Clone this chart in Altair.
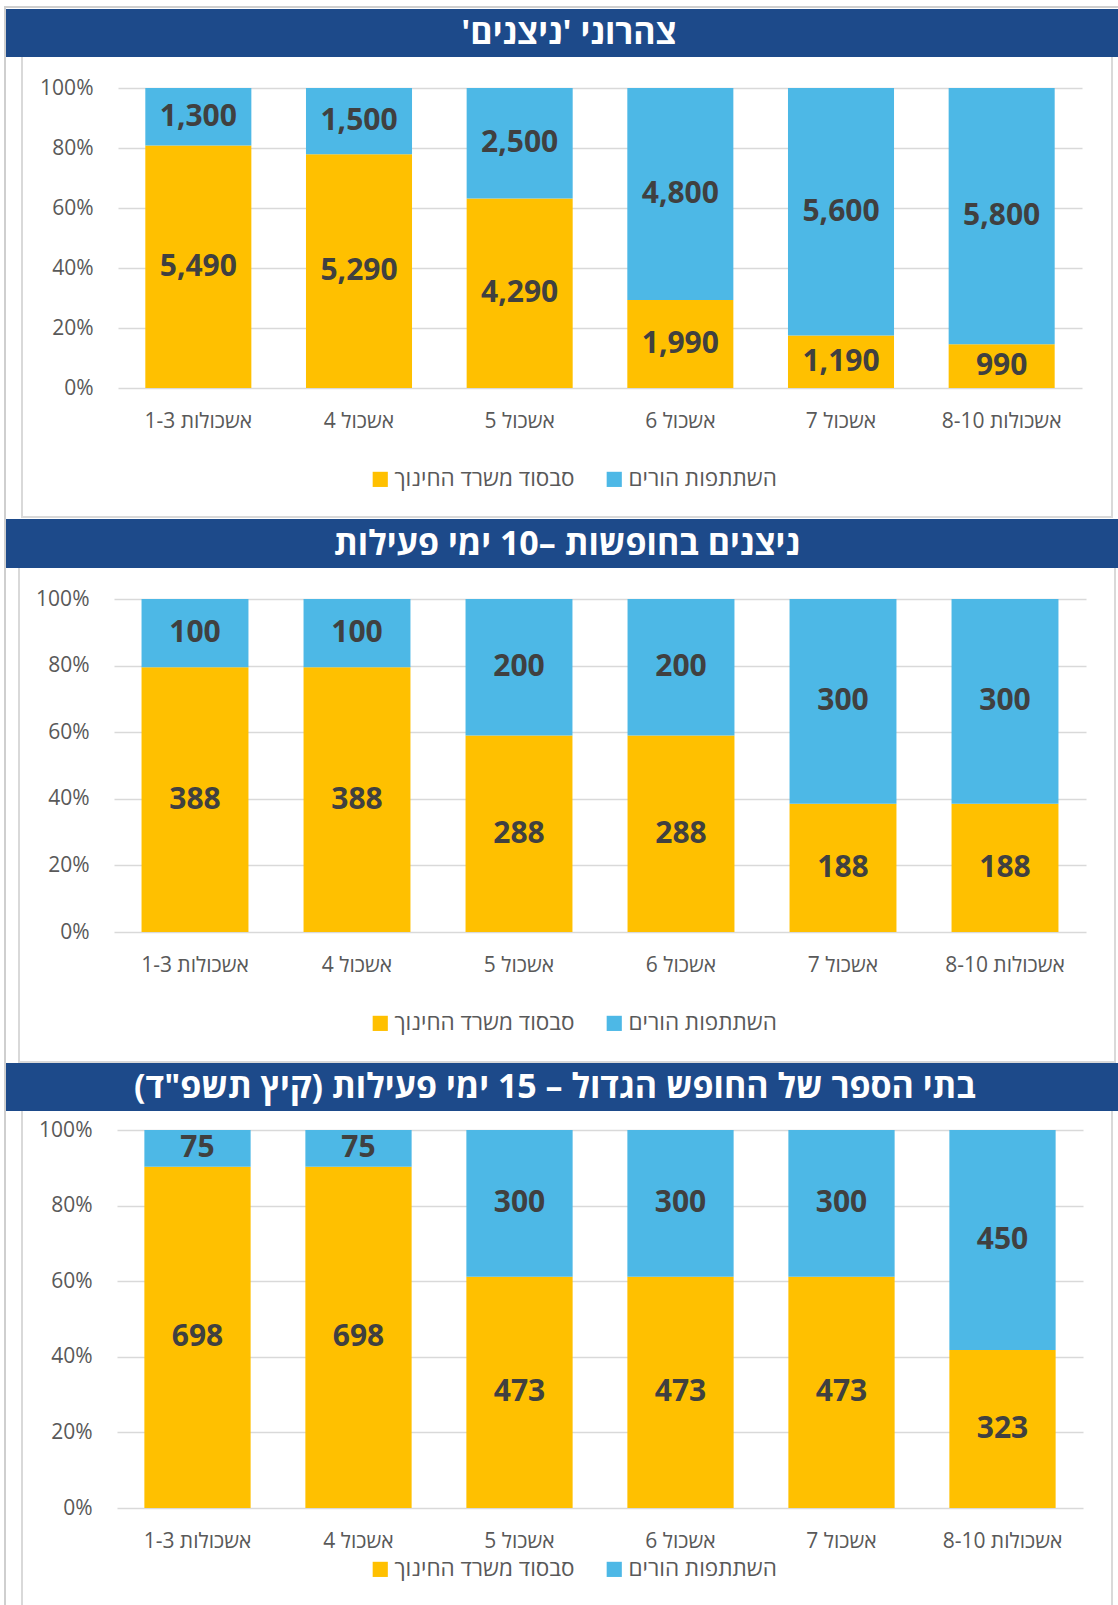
import altair as alt
import pandas as pd

# ---------------- data ----------------
CATS = ["אשכולות 1-3", "אשכול 4", "אשכול 5", "אשכול 6", "אשכול 7", "אשכולות 8-10"]
SERIES = ["סבסוד משרד החינוך", "השתתפות הורים"]
COLORS = ["#FFC000", "#4DB8E6"]
Y_TICKS = [0, 0.2, 0.4, 0.6, 0.8, 1.0]

P1_TITLE = "צהרוני 'ניצנים'"
P1_YEL = [5490, 5290, 4290, 1990, 1190, 990]
P1_BLU = [1300, 1500, 2500, 4800, 5600, 5800]

P2_TITLE = "ניצנים בחופשות –10 ימי פעילות"
P2_YEL = [388, 388, 288, 288, 188, 188]
P2_BLU = [100, 100, 200, 200, 300, 300]

P3_TITLE = 'בתי הספר של החופש הגדול – 15 ימי פעילות (קיץ תשפ"ד)'
P3_YEL = [698, 698, 473, 473, 473, 323]
P3_BLU = [75, 75, 300, 300, 300, 450]

# ---------------- style ----------------
PAGE_W = 1118
OX = 118  # common plot origin of the stacked views
BANNER = "#1D4A8A"
FRAME = "#CFCFCF"
BORDER = "#D9D9D9"
GRID = "#D9D9D9"
AXIS_TXT = "#595959"
VAL_TXT = "#404040"
FONT = "Open Sans"
RLM = "\u200f"


def panel(title, yel, blu, x_left, x_right, oy, H, top, bottom, ban_top, ban_bot,
          border, legend_xy, title_cx, frame_top=False, border_bottom=True):
    rows = []
    for c, a, b in zip(CATS, yel, blu):
        rows.append(dict(cat=c, series=SERIES[0], value=a, ord=0))
        rows.append(dict(cat=c, series=SERIES[1], value=b, ord=1))
    df = pd.DataFrame(rows)
    one = pd.DataFrame({"k": [0]})
    ox = OX
    W = x_right - ox
    xr = [x_left - ox, x_right - ox]

    def px(v):
        return alt.value(v - ox)

    def py(v):
        return alt.value(v - oy)

    def box(x1, x2, y1, y2, color):
        return alt.Chart(one).mark_rect(fill=color).encode(
            x=px(x1), x2=px(x2), y=py(y1), y2=py(y2))

    layers = []
    # invisible block rectangle (defines the block's bounds)
    layers.append(alt.Chart(one).mark_rect(fill="white", opacity=0).encode(
        x=px(0), x2=px(PAGE_W), y=py(top), y2=py(bottom)))
    # outer frame line on the left (and top for the first block)
    layers.append(box(4, 6, top + (6 if frame_top else 0), bottom, FRAME))
    if frame_top:
        layers.append(box(4, PAGE_W, 6, 8, FRAME))
    # panel border
    bx1, by1, bx2, by2 = border
    layers.append(box(bx1 - 1, bx1 + 1, by1, by2, BORDER))
    layers.append(box(bx2 - 1, bx2 + 1, by1, by2, BORDER))
    if border_bottom:
        layers.append(box(bx1 - 1, bx2 + 1, by2 - 1, by2 + 1, BORDER))
    # banner
    layers.append(box(6, PAGE_W, ban_top, ban_bot, BANNER))
    layers.append(alt.Chart(one).mark_text(
        text=RLM + title + RLM, font=FONT, fontSize=34, fontWeight="bold",
        color="white", align="center", baseline="middle").encode(
        x=px(title_cx), y=py((ban_top + ban_bot) / 2 + 1)))

    xenc = alt.X("cat:N", sort=CATS, title=None,
                 scale=alt.Scale(paddingInner=0.34, paddingOuter=0.17, range=xr),
                 axis=alt.Axis(labelAngle=0, labelFont=FONT, labelFontSize=21,
                               labelColor=AXIS_TXT, labelPadding=22,
                               labelLimit=300,
                               domain=False, ticks=False, grid=False))
    bars = alt.Chart(df).mark_bar().encode(
        x=xenc,
        y=alt.Y("value:Q", stack="normalize", title=None,
                scale=alt.Scale(domain=[0, 1]),
                axis=alt.Axis(values=Y_TICKS, format=".0%", labelFont=FONT,
                              labelFontSize=21, labelColor=AXIS_TXT,
                              labelPadding=25 + (ox - x_left), domain=False,
                              ticks=False, grid=True, gridColor=GRID,
                              gridWidth=1.5)),
        color=alt.Color("series:N", title=None,
                        scale=alt.Scale(domain=SERIES, range=COLORS),
                        legend=alt.Legend(orient="none", direction="horizontal",
                                          legendX=legend_xy[0] - ox,
                                          legendY=legend_xy[1] - oy,
                                          symbolType="square", symbolSize=230,
                                          symbolStrokeWidth=0,
                                          labelFont=FONT, labelFontSize=22.5,
                                          labelColor=AXIS_TXT, labelOffset=3,
                                          labelLimit=400,
                                          columnPadding=28, padding=0)),
        order=alt.Order("ord:Q"),
    )
    labels = alt.Chart(df).transform_stack(
        stack="value", as_=["v0", "v1"], groupby=["cat"],
        offset="normalize", sort=[alt.SortField("ord")]
    ).transform_calculate(mid="(datum.v0 + datum.v1) / 2").mark_text(
        font=FONT, fontSize=30, fontWeight="bold", color=VAL_TXT,
        baseline="middle", align="center").encode(
        x=alt.X("cat:N", sort=CATS),
        y=alt.Y("mid:Q"),
        text=alt.Text("value:Q", format=","),
    )
    layers += [bars, labels]
    return alt.layer(*layers).properties(width=W, height=H)


p1 = panel(P1_TITLE, P1_YEL, P1_BLU, x_left=118, x_right=1082, oy=88, H=300,
           top=0, bottom=519, ban_top=9, ban_bot=57,
           border=(22, 57, 1112, 517), legend_xy=(369, 468), title_cx=569,
           frame_top=True)
p2 = panel(P2_TITLE, P2_YEL, P2_BLU, x_left=114, x_right=1086, oy=599, H=333,
           top=519, bottom=1063, ban_top=519, ban_bot=568,
           border=(19, 568, 1115, 1062), legend_xy=(369, 1012), title_cx=567)
p3 = panel(P3_TITLE, P3_YEL, P3_BLU, x_left=117, x_right=1083, oy=1130, H=378,
           top=1063, bottom=1605, ban_top=1063, ban_bot=1111,
           border=(22, 1111, 1112, 1605), legend_xy=(369, 1558), title_cx=555,
           border_bottom=False)

chart = alt.vconcat(p1, p2, p3, spacing=0).resolve_scale(
    color="independent", x="independent", y="independent"
).properties(
    padding={"left": 0, "top": 0, "right": 0, "bottom": 0},
    background="white",
).configure_view(stroke=None)

chart.save("out.html", embed_options={"renderer": "svg", "actions": False})
